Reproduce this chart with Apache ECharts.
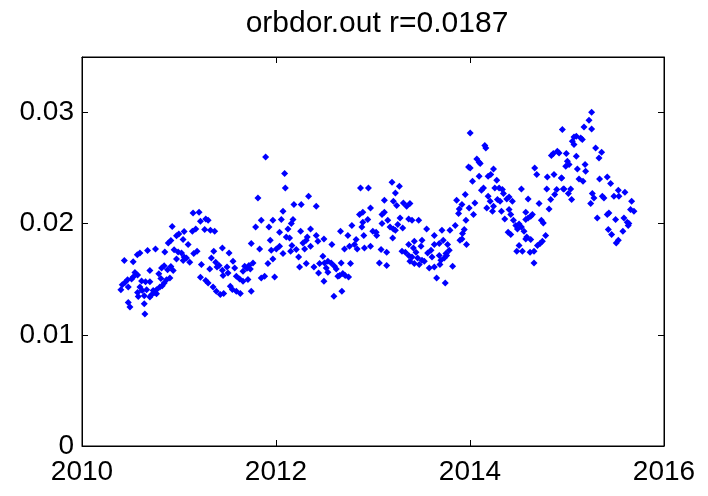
<!DOCTYPE html>
<html>
<head>
<meta charset="utf-8">
<script src="https://cdn.jsdelivr.net/npm/echarts@6/dist/echarts.min.js"></script>
<style>
  html, body { margin: 0; padding: 0; background: #fff; }
  #chart { width: 708px; height: 496px; }
</style>
</head>
<body>
<div id="chart"></div>
<script>
const chartTitle = 'orbdor.out r=0.0187'
const xTicks = [2010, 2016, 2]   // min, max, step
const yTicks = [0, 0.035, 0.01]

// [decimal year, value]
const pts2010 = [
  [2010.930,0.01976],[2010.974,0.01892],[2010.998,0.01907],[2011.053,0.01931],[2010.916,0.01850],[2010.889,0.01826],
  [2010.950,0.01766],[2010.991,0.01745],[2011.026,0.01736],[2010.854,0.01745],[2010.758,0.01772],[2010.676,0.01760],
  [2010.597,0.01736],[2010.570,0.01721],[2010.528,0.01658],[2010.436,0.01670],[2010.974,0.01682],[2011.053,0.01700],
  [2011.043,0.01670],[2010.700,0.01580],[2010.546,0.01562],[2010.573,0.01538],[2010.511,0.01502],[2010.470,0.01496],
  [2010.443,0.01472],[2010.415,0.01451],[2010.401,0.01406],[2010.477,0.01430],[2010.528,0.01520],[2010.614,0.01484],
  [2010.655,0.01478],[2010.700,0.01478],[2010.597,0.01430],[2010.621,0.01400],[2010.666,0.01406],[2010.734,0.01400],
  [2010.751,0.01382],[2010.717,0.01361],[2010.700,0.01340],[2010.573,0.01382],[2010.580,0.01346],[2010.642,0.01352],
  [2010.820,0.01601],[2010.847,0.01622],[2010.882,0.01586],[2010.916,0.01616],[2010.940,0.01580],[2010.792,0.01550],
  [2010.813,0.01508],[2010.871,0.01496],[2010.906,0.01511],[2010.847,0.01466],[2010.827,0.01442],[2010.803,0.01430],
  [2010.768,0.01406],[2010.768,0.01370],[2010.477,0.01292],[2010.494,0.01250],[2010.642,0.01280],[2010.648,0.01187]
]
const pts2011 = [
  [2011.893,0.02601],[2011.814,0.02232],[2011.145,0.02097],[2011.207,0.02103],[2011.221,0.02022],[2011.276,0.02043],
  [2011.300,0.02031],[2011.138,0.01932],[2011.173,0.01953],[2011.265,0.01947],[2011.324,0.01941],[2011.368,0.01932],
  [2011.042,0.01857],[2011.094,0.01812],[2011.186,0.01752],[2011.152,0.01731],[2011.358,0.01752],[2011.447,0.01782],
  [2011.516,0.01737],[2011.077,0.01692],[2011.111,0.01653],[2011.334,0.01692],[2011.378,0.01653],[2011.413,0.01623],
  [2011.557,0.01662],[2011.574,0.01602],[2011.231,0.01632],[2011.317,0.01593],[2011.392,0.01611],[2011.447,0.01581],
  [2011.495,0.01611],[2011.505,0.01557],[2011.454,0.01533],[2011.221,0.01518],[2011.276,0.01488],[2011.300,0.01467],
  [2011.351,0.01431],[2011.385,0.01392],[2011.426,0.01362],[2011.461,0.01371],[2011.529,0.01437],[2011.550,0.01407],
  [2011.591,0.01392],[2011.632,0.01371],[2011.745,0.01392],[2011.591,0.01527],[2011.625,0.01503],[2011.660,0.01482],
  [2011.711,0.01497],[2011.677,0.01617],[2011.701,0.01599],[2011.721,0.01623],[2011.735,0.01593],[2011.660,0.01572],
  [2011.763,0.01647],[2011.745,0.01821],[2011.831,0.01773],[2011.917,0.01641],[2011.968,0.01683],[2011.790,0.01971],
  [2011.848,0.02031],[2011.927,0.01971],[2011.968,0.02031],[2011.941,0.01851],[2011.951,0.01761],[2012.003,0.01773],
  [2011.848,0.01512],[2011.883,0.01527],[2011.986,0.01521]
]
const pts2012 = [
  [2012.089,0.02451],[2012.096,0.02322],[2012.185,0.02172],[2012.260,0.02172],[2012.336,0.02247],[2012.415,0.02157],
  [2012.072,0.02112],[2012.055,0.02037],[2012.175,0.02037],[2012.158,0.02001],[2012.123,0.01953],[2012.037,0.01923],
  [2012.106,0.01881],[2012.140,0.01872],[2012.254,0.01932],[2012.356,0.01953],[2012.322,0.01881],[2012.278,0.01827],
  [2012.312,0.01851],[2012.415,0.01893],[2012.432,0.01842],[2012.494,0.01863],[2012.356,0.01797],[2012.295,0.01773],
  [2012.037,0.01797],[2012.164,0.01803],[2012.209,0.01767],[2012.151,0.01752],[2012.072,0.01731],[2012.233,0.01701],
  [2012.243,0.01611],[2012.312,0.01641],[2012.391,0.01611],[2012.483,0.01707],[2012.576,0.01812],[2012.449,0.01641],
  [2012.500,0.01647],[2012.535,0.01662],[2012.569,0.01647],[2012.603,0.01617],[2012.518,0.01602],[2012.535,0.01563],
  [2012.439,0.01557],[2012.494,0.01482],[2012.621,0.01593],[2012.672,0.01647],[2012.768,0.01641],[2012.655,0.01533],
  [2012.689,0.01551],[2012.713,0.01533],[2012.748,0.01521],[2012.638,0.01527],[2012.597,0.01347],[2012.679,0.01392],
  [2012.665,0.01932],[2012.741,0.01893],[2012.782,0.01983],[2012.706,0.01773],[2012.758,0.01797],[2012.809,0.01812],
  [2012.826,0.01857],[2012.837,0.01773],[2012.912,0.01782],[2012.905,0.01893],[2012.885,0.01971],[2012.895,0.02013],
  [2012.946,0.02037],[2012.974,0.01797],[2012.861,0.02082],[2012.895,0.02103],[2012.974,0.02142],[2012.871,0.02322],
  [2012.953,0.02322],[2012.998,0.01932]
]
const pts2013 = [
  [2013.196,0.02373],[2013.272,0.02337],[2013.231,0.02277],[2013.117,0.02211],[2013.210,0.02202],[2013.244,0.02163],
  [2013.313,0.02187],[2013.381,0.02181],[2013.347,0.02157],[2013.117,0.02103],[2013.093,0.02082],[2013.152,0.02031],
  [2013.093,0.02001],[2013.279,0.02052],[2013.368,0.02043],[2013.402,0.02031],[2013.471,0.02031],[2013.255,0.01992],
  [2013.306,0.01962],[2013.176,0.01971],[2013.210,0.01953],[2013.231,0.01941],[2013.032,0.01923],[2013.038,0.01893],
  [2013.203,0.01872],[2013.083,0.01767],[2013.141,0.01743],[2013.066,0.01647],[2013.141,0.01623],[2013.553,0.01953],
  [2013.505,0.01851],[2013.495,0.01797],[2013.426,0.01842],[2013.368,0.01812],[2013.416,0.01782],[2013.299,0.01752],
  [2013.333,0.01743],[2013.368,0.01713],[2013.443,0.01743],[2013.402,0.01701],[2013.460,0.01692],[2013.381,0.01662],
  [2013.505,0.01671],[2013.426,0.01641],[2013.477,0.01632],[2013.529,0.01662],[2013.563,0.01737],[2013.598,0.01761],
  [2013.632,0.01893],[2013.632,0.01812],[2013.683,0.01821],[2013.711,0.01941],[2013.724,0.01851],[2013.769,0.01812],
  [2013.786,0.01761],[2013.580,0.01602],[2013.632,0.01611],[2013.608,0.01701],[2013.683,0.01713],[2013.700,0.01671],
  [2013.735,0.01692],[2013.752,0.01731],[2013.690,0.01632],[2013.759,0.01713],[2013.656,0.01512],[2013.745,0.01467],
  [2013.821,0.01617],[2013.793,0.01941],[2013.848,0.01983],[2013.923,0.01911],[2013.941,0.01947],[2013.896,0.01851],
  [2013.917,0.01863],[2013.964,0.01812],[2013.862,0.02211],[2013.889,0.02133],[2013.917,0.02172],[2013.951,0.02262],
  [2013.882,0.02091],[2013.958,0.02031],[2013.985,0.02511]
]
const pts2014 = [
  [2014.002,0.02817],[2014.153,0.02703],[2014.163,0.02682],[2014.070,0.02583],[2014.094,0.02553],[2014.105,0.02541],
  [2014.002,0.02502],[2014.026,0.02382],[2014.094,0.02427],[2014.187,0.02427],[2014.214,0.02442],[2014.242,0.02493],
  [2014.276,0.02391],[2014.118,0.02301],[2014.139,0.02322],[2014.256,0.02322],[2014.300,0.02322],[2014.334,0.02307],
  [2014.187,0.02247],[2014.208,0.02202],[2014.283,0.02217],[2014.310,0.02202],[2014.345,0.02271],[2014.379,0.02223],
  [2014.403,0.02241],[2014.437,0.02202],[2013.991,0.02142],[2014.050,0.02187],[2014.036,0.02082],[2014.173,0.02142],
  [2014.242,0.02157],[2014.232,0.02112],[2014.324,0.02112],[2014.358,0.02043],[2014.403,0.02127],[2014.420,0.02082],
  [2014.448,0.02031],[2014.393,0.01923],[2014.420,0.01902],[2014.472,0.01983],[2014.489,0.01953],[2014.506,0.01997],
  [2014.530,0.01971],[2014.557,0.01932],[2014.585,0.01881],[2014.575,0.02103],[2014.530,0.02313],[2014.599,0.02223],
  [2014.599,0.02052],[2014.626,0.02067],[2014.643,0.02082],[2014.575,0.02037],[2014.712,0.02181],[2014.667,0.02502],
  [2014.688,0.02442],[2014.736,0.02031],[2014.756,0.02007],[2014.780,0.01893],[2014.797,0.02421],[2014.866,0.02442],
  [2014.791,0.02313],[2014.839,0.02613],[2014.859,0.02631],[2014.900,0.02652],[2014.918,0.02637],[2014.894,0.02307],
  [2014.873,0.02262],[2014.832,0.02217],[2014.815,0.02133],[2014.942,0.02412],[2014.962,0.02313],[2014.952,0.02847],
  [2014.506,0.01803],[2014.482,0.01752],[2014.540,0.01752],[2014.575,0.01863],[2014.626,0.01857],[2014.619,0.01743],
  [2014.660,0.01752],[2014.660,0.01647],[2014.722,0.01821],[2014.746,0.01842],[2014.695,0.01803]
]
const pts2015 = [
  [2015.254,0.03003],[2015.227,0.02931],[2015.254,0.02853],[2015.175,0.02871],[2015.072,0.02781],[2015.096,0.02787],
  [2015.141,0.02772],[2015.158,0.02757],[2015.055,0.02742],[2015.072,0.02712],[2014.993,0.02631],[2015.096,0.02607],
  [2015.295,0.02682],[2015.357,0.02643],[2015.330,0.02592],[2015.004,0.02562],[2014.987,0.02517],[2015.021,0.02532],
  [2015.107,0.02493],[2015.186,0.02532],[2015.192,0.02472],[2014.945,0.02412],[2015.124,0.02403],[2015.165,0.02382],
  [2014.969,0.02313],[2015.038,0.02313],[2015.014,0.02271],[2015.048,0.02217],[2015.336,0.02403],[2015.415,0.02421],
  [2015.450,0.02361],[2015.261,0.02271],[2015.278,0.02232],[2015.364,0.02247],[2015.381,0.02232],[2015.244,0.02181],
  [2015.484,0.02247],[2015.535,0.02247],[2015.529,0.02301],[2015.597,0.02283],[2015.666,0.02202],[2015.655,0.02127],
  [2015.690,0.02112],[2015.312,0.02052],[2015.415,0.02082],[2015.432,0.02097],[2015.501,0.02037],[2015.587,0.02052],
  [2015.621,0.02013],[2015.631,0.01983],[2015.638,0.02001],[2015.426,0.01947],[2015.460,0.01902],[2015.576,0.01932],
  [2015.529,0.01851],[2015.508,0.01827]
]

const points = [].concat(pts2010, pts2011, pts2012, pts2013, pts2014, pts2015)

const chart = echarts.init(document.getElementById('chart'))
const font = 'Liberation Sans, Arial, Helvetica, sans-serif'

const axisCommon = {
  axisLine: { show: true, onZero: false, lineStyle: { color: '#000', width: 1 } },
  axisTick: { show: true, inside: true, length: 6, lineStyle: { color: '#000' } },
  splitLine: { show: false }
}

chart.setOption({
  animation: false,
  title: {
    text: chartTitle,
    left: 372, top: 4, textAlign: 'center',
    textStyle: { fontFamily: font, fontSize: 30, fontWeight: 'normal', color: '#000' }
  },
  grid: { left: 82, right: 44, top: 57, bottom: 50, show: true, borderColor: '#000', borderWidth: 1 },
  xAxis: [
    Object.assign({
      type: 'value', position: 'bottom', min: xTicks[0], max: xTicks[1], interval: xTicks[2],
      axisLabel: { fontFamily: font, fontSize: 28, color: '#000', margin: 12, formatter: v => String(v) }
    }, axisCommon),
    Object.assign({
      type: 'value', position: 'top', min: xTicks[0], max: xTicks[1], interval: xTicks[2],
      axisLabel: { show: false }
    }, axisCommon)
  ],
  yAxis: [
    Object.assign({
      type: 'value', position: 'left', min: yTicks[0], max: yTicks[1], interval: yTicks[2],
      axisLabel: {
        fontFamily: font, fontSize: 28, color: '#000', margin: 8,
        formatter: v => (v > 0.031 ? '' : String(+v.toFixed(2)))
      }
    }, axisCommon),
    Object.assign({
      type: 'value', position: 'right', min: yTicks[0], max: yTicks[1], interval: yTicks[2],
      axisLabel: { show: false }
    }, axisCommon)
  ],
  series: [{
    type: 'scatter',
    xAxisIndex: 0, yAxisIndex: 0,
    symbol: 'diamond', symbolSize: 7,
    itemStyle: { color: '#0000ff', opacity: 1 },
    data: points
  }]
})
</script>
</body>
</html>
